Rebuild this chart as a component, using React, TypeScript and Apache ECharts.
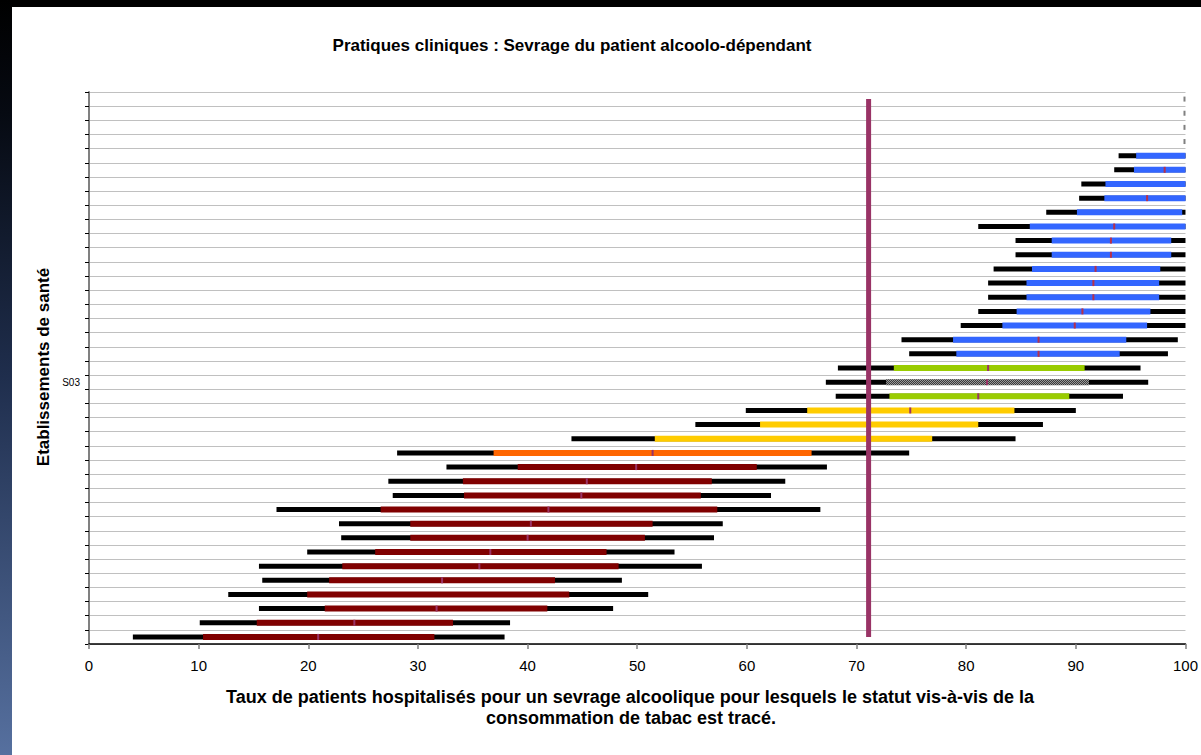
import React, { useEffect, useRef } from "react";
import * as echarts from "echarts";

// Rows listed from top to bottom of the chart
const categories = [
  "", "", "", "", "", "", "", "", "", "",
  "", "", "", "", "", "", "", "", "", "",
  "S03", "", "", "", "", "", "", "", "", "",
  "", "", "", "", "", "", "", "", "",
];

const groups = [
  "na", "na", "na", "na",
  "blue", "blue", "blue", "blue", "blue", "blue", "blue", "blue", "blue", "blue", "blue", "blue", "blue", "blue", "blue",
  "green", "grey", "green",
  "yellow", "yellow", "yellow",
  "orange",
  "maroon", "maroon", "maroon", "maroon", "maroon", "maroon", "maroon", "maroon", "maroon", "maroon", "maroon", "maroon", "maroon",
];

const outerLow = [
  100, 100, 100, 100,
  93.9, 93.5, 90.5, 90.3, 87.3, 81.1, 84.5, 84.5, 82.5, 82.0, 82.0, 81.1, 79.5, 74.1, 74.8,
  68.3, 67.2, 68.1,
  59.9, 55.3, 44.0,
  28.1,
  32.6, 27.3, 27.7, 17.1, 22.8, 23.0, 19.9, 15.5, 15.8, 12.7, 15.5, 10.1, 4.0,
];

const innerLow = [
  100, 100, 100, 100,
  95.5, 95.3, 92.7, 92.6, 90.1, 85.8, 87.8, 87.8, 86.0, 85.5, 85.5, 84.6, 83.3, 78.8, 79.1,
  73.4, 72.7, 73.0,
  65.5, 61.2, 51.6,
  36.9,
  39.1, 34.1, 34.2, 26.6, 29.3, 29.3, 26.1, 23.1, 21.9, 19.9, 21.5, 15.3, 10.4,
];

const median: (number | null)[] = [
  null, null, null, null,
  null, 98.1, null, 96.5, null, 93.5, 93.2, 93.2, 91.8, 91.6, 91.6, 90.6, 89.9, 86.6, 86.6,
  82.0, 81.9, 81.1,
  74.9, null, null,
  51.4,
  49.9, 45.4, 44.9, 41.9, 40.3, 40.0, 36.6, 35.6, 32.2, null, 31.7, 24.2, 20.9,
];

const innerHigh = [
  100, 100, 100, 100,
  100, 100, 100, 100, 99.7, 100, 98.7, 98.7, 97.7, 97.6, 97.6, 96.8, 96.5, 94.6, 94.0,
  90.8, 91.2, 89.4,
  84.4, 81.1, 76.9,
  65.9,
  60.9, 56.8, 55.8, 57.3, 51.4, 50.7, 47.2, 48.3, 42.5, 43.8, 41.8, 33.2, 31.5,
];

const outerHigh = [
  100, 100, 100, 100,
  100, 100, 100, 100, 100, 100, 100, 100, 100, 100, 100, 100, 100, 99.3, 98.4,
  95.9, 96.6, 94.3,
  90.0, 87.0, 84.5,
  74.8,
  67.3, 63.5, 62.2, 66.7, 57.8, 57.0, 53.4, 55.9, 48.6, 51.0, 47.8, 38.4, 37.9,
];

const referenceValue = 71.1;

const chartTitle = "Pratiques cliniques : Sevrage du patient alcoolo-dépendant";
const xTitleLines = [
  "Taux de patients hospitalisés pour un sevrage alcoolique pour lesquels le statut vis-à-vis de la",
  "consommation de tabac est tracé.",
];
const yTitle = "Etablissements de santé";

const groupColors: Record<string, string> = {
  blue: "#3366FF",
  green: "#99CC00",
  grey: "#5e5e5e",
  yellow: "#FFCC00",
  orange: "#FF6600",
  maroon: "#800000",
  na: "#808080",
};

const FONT = "'Liberation Sans', Arial, sans-serif";

function makeHatch(): any {
  try {
    const c = document.createElement("canvas");
    c.width = 2;
    c.height = 2;
    const ctx = c.getContext("2d");
    if (!ctx) return groupColors.grey;
    ctx.fillStyle = "#3a3a3a";
    ctx.fillRect(0, 0, 2, 2);
    ctx.fillStyle = "#9a9a9a";
    ctx.fillRect(0, 0, 1, 1);
    ctx.fillRect(1, 1, 1, 1);
    return { image: c, repeat: "repeat" };
  } catch (e) {
    return groupColors.grey;
  }
}

export default function App() {
  const ref = useRef<HTMLDivElement>(null);

  useEffect(() => {
    if (!ref.current) return;
    const chart = echarts.init(ref.current, null, { renderer: "svg" });
    const hatch = makeHatch();

    const data = categories.map((_, i) => [i, outerLow[i], outerHigh[i]]);

    const option: any = {
      animation: false,
      backgroundColor: "#ffffff",
      grid: { left: 89, right: 14, top: 92, bottom: 111, containLabel: false },
      xAxis: {
        type: "value",
        min: 0,
        max: 100,
        interval: 10,
        splitLine: { show: false },
        axisLine: { show: true, lineStyle: { color: "#000", width: 1.5 } },
        axisTick: { show: true, length: 5, lineStyle: { color: "#808080", width: 1.5 } },
        axisLabel: { fontSize: 15, color: "#000", margin: 14, fontFamily: FONT },
      },
      yAxis: {
        type: "category",
        data: categories,
        inverse: true,
        boundaryGap: true,
        axisLine: { show: true, lineStyle: { color: "#808080", width: 2 } },
        axisTick: { show: true, length: 4, interval: 0, lineStyle: { color: "#000", width: 1 } },
        axisLabel: { interval: 0, fontSize: 10, color: "#000", margin: 9, fontFamily: FONT },
        splitLine: { show: true, interval: 0, lineStyle: { color: "#c0c0c0", width: 1 } },
      },
      graphic: [
        { type: "rect", left: 0, top: 0, shape: { width: 1201, height: 7 }, style: { fill: "#000" }, z: 100 },
        {
          type: "rect",
          left: 0,
          top: 0,
          shape: { width: 12, height: 755 },
          style: {
            fill: new echarts.graphic.LinearGradient(0, 0, 0, 1, [
              { offset: 0, color: "#000000" },
              { offset: 0.15, color: "#060a12" },
              { offset: 0.5, color: "#1f2e4d" },
              { offset: 1, color: "#56709f" },
            ]),
          },
          z: 100,
        },
        {
          type: "text",
          x: 572,
          y: 45,
          style: {
            text: chartTitle,
            font: `bold 17px ${FONT}`,
            fill: "#000",
            textAlign: "center",
            textVerticalAlign: "middle",
          },
        },
        {
          type: "text",
          x: 630,
          y: 697,
          style: {
            text: xTitleLines[0],
            font: `bold 18px ${FONT}`,
            fill: "#000",
            textAlign: "center",
            textVerticalAlign: "middle",
          },
        },
        {
          type: "text",
          x: 631,
          y: 718,
          style: {
            text: xTitleLines[1],
            font: `bold 18px ${FONT}`,
            fill: "#000",
            textAlign: "center",
            textVerticalAlign: "middle",
          },
        },
        {
          type: "text",
          x: 43,
          y: 367,
          rotation: Math.PI / 2,
          style: {
            text: yTitle,
            font: `bold 17px ${FONT}`,
            fill: "#000",
            textAlign: "center",
            textVerticalAlign: "middle",
          },
        },
      ],
      series: [
        {
          type: "custom",
          clip: true,
          encode: { x: [1, 2], y: 0 },
          data,
          z: 3,
          renderItem: (params: any, api: any) => {
            const idx = params.dataIndex;
            const row = api.value(0);
            const g = groups[idx];
            const color = g === "grey" ? hatch : groupColors[g];
            if (g === "na") {
              const p = api.coord([outerHigh[idx], row]);
              return {
                type: "rect",
                shape: { x: p[0] - 2, y: p[1] - 2.5, width: 2, height: 5 },
                style: { fill: color },
              };
            }
            const pLo = api.coord([outerLow[idx], row]);
            const pHi = api.coord([outerHigh[idx], row]);
            const pIl = api.coord([innerLow[idx], row]);
            const pIh = api.coord([innerHigh[idx], row]);
            const yc = pLo[1];
            const children: any[] = [
              {
                type: "rect",
                shape: { x: pLo[0], y: yc - 2.5, width: pHi[0] - pLo[0], height: 5 },
                style: { fill: "#000" },
              },
              {
                type: "rect",
                shape: { x: pIl[0], y: yc - 3, width: pIh[0] - pIl[0], height: 6 },
                style: { fill: color },
              },
            ];
            const m = median[idx];
            if (m !== null) {
              const pM = api.coord([m, row]);
              children.push({
                type: "rect",
                shape: { x: pM[0] - 1, y: yc - 3, width: 2, height: 6 },
                style: { fill: g === "blue" ? "#b8304a" : "#993366" },
              });
            }
            return { type: "group", children };
          },
        },
        {
          type: "line",
          data: [
            [referenceValue, 0],
            [referenceValue, categories.length - 1],
          ],
          symbol: "none",
          silent: true,
          z: 5,
          lineStyle: { color: "#993366", width: 5, cap: "butt" },
        },
      ],
    };

    chart.setOption(option);
    return () => chart.dispose();
  }, []);

  return (
    <div
      ref={ref}
      style={{ position: "fixed", left: 0, top: 0, width: 1201, height: 755 }}
    />
  );
}
